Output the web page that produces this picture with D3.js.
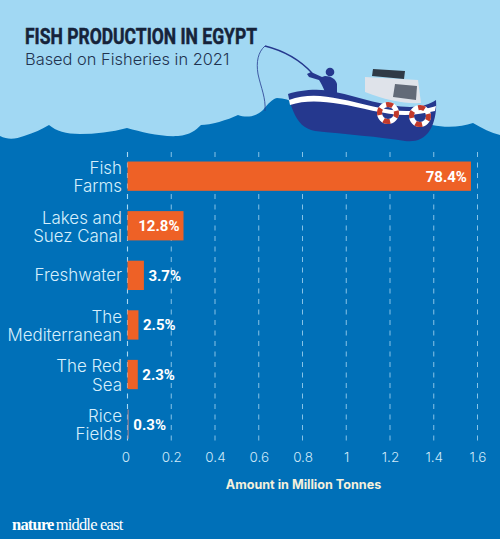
<!DOCTYPE html>
<html><head><meta charset="utf-8">
<script src="https://cdnjs.cloudflare.com/ajax/libs/d3/7.8.5/d3.min.js"></script>
<style>html,body{margin:0;padding:0;background:#0070b8}svg{display:block}</style>
</head><body><svg id="c" width="500" height="539" font-family="Inter,Roboto,sans-serif"></svg>
<script>
const categories=[["Fish","Farms"],["Lakes and","Suez Canal"],["Freshwater"],["The","Mediterranean"],["The Red","Sea"],["Rice","Fields"]];
const values=[1.57,0.256,0.075,0.05,0.047,0.006];
const shares=["78.4%","12.8%","3.7%","2.5%","2.3%","0.3%"];
const ticks=[0,0.2,0.4,0.6,0.8,1,1.2,1.4,1.6];
const svg=d3.select("#c");
svg.append("rect").attr("width",500).attr("height",539).attr("fill","#0070b8");
svg.append("rect").attr("width",500).attr("height",150).attr("fill","#a1d8f3");
svg.append("path").attr("fill","#0070b8").attr("d","M0,136 C8,140 16,139 24,136 C34,133 42,129 49,125 C56,131 66,134 80,134 C95,134 112,132 127,128 C142,132 160,137 178,136 C190,135 196,130 201,125 C210,125 228,120 238,115 C246,118 256,117 263,110 C268,104 272,99 277,98 C284,98 290,100 296,104 L432,125 C446,128 462,127 473,123 C482,128 491,133 500,135 L500,160 L0,160 Z");
// boat
svg.append("path").attr("fill","#25388e").attr("d","M288,94 C300,90 320,88 335,92 C360,97 385,107 410,107 C422,107 430,104 436,100 C437,112 434,124 430,130 C424,140 415,142 405,141 C380,137 345,134 315,131 C304,129 298,122 294,113 C291,106 289,100 288,94Z");
svg.append("path").attr("fill","#fff").attr("d","M289,100 C305,94 322,95 340,99 C362,103 388,112 410,111 C420,110 430,108 436,106 L435,111 C425,113 415,115 405,115 C385,115 360,107 340,104 C322,101 305,100 290,105Z");
svg.append("path").attr("fill","#dfe3ea").attr("d","M365,77 L418,80 L421,103 C405,104 385,100 365,92Z");
svg.append("path").attr("fill","#2f3a46").attr("d","M373,69 L405,71 L404,79 L372,76Z");
svg.append("path").attr("fill","#626a78").attr("d","M395,84 L417,86 L416,100 L393,97Z");
[[388,113],[420,116]].forEach(([cx,cy])=>{
  svg.append("circle").attr("cx",cx).attr("cy",cy).attr("r",8.5).attr("fill","none").attr("stroke","#fff").attr("stroke-width",5);
  svg.append("circle").attr("cx",cx).attr("cy",cy).attr("r",8.5).attr("fill","none").attr("stroke","#c23a2b").attr("stroke-width",5).attr("stroke-dasharray","6.7 6.7").attr("transform",`rotate(-15 ${cx} ${cy})`);
});
// fisherman
svg.append("circle").attr("cx",330).attr("cy",72).attr("r",4.3).attr("fill","#25388e");
svg.append("path").attr("fill","#25388e").attr("d","M325,76 C331,76 336,79 337,84 L337,94 L325,92 C323,87 321,83 319,80 L309,77 L307,74 L311,72 L322,77Z");
svg.append("path").attr("fill","none").attr("stroke","#25388e").attr("stroke-width",1.3).attr("d","M312,73 C300,60 285,51 265,46");
svg.append("path").attr("fill","none").attr("stroke","#25388e").attr("stroke-width",.8).attr("d","M265,46 C258,52 256,62 258,74 C261,88 266,98 265,111");
const chartTop=152,chartBottom=445;
const x=d3.scaleLinear().domain([0,1.6]).range([127.5,477.5]);
const y=d3.scaleBand().domain(categories.map(d=>d.join(" "))).range([151.6,448.7]).paddingInner(0.409).paddingOuter(0.2);
const axis=d3.axisBottom(x).tickValues(ticks).tickFormat(d3.format("")).tickSize(0);
const ag=svg.append("g").attr("transform",`translate(0,${chartBottom})`).call(axis);
ag.select(".domain").remove();
ag.selectAll("text").attr("y",6).attr("dy",".8em").attr("font-size",13.5).attr("font-weight",300).attr("fill","#cfe9f8").attr("font-family","Inter,Roboto,sans-serif").attr("dx",d=>d===0?-2:0);
svg.append("g").selectAll("line").data(ticks).join("line")
 .attr("x1",d=>x(d)).attr("x2",d=>x(d)).attr("y1",chartTop).attr("y2",chartBottom)
 .attr("stroke","#a9d8f2").attr("stroke-width",d=>d===0?1.1:.8).attr("stroke-dasharray","5 5.5");
svg.append("g").selectAll("rect").data(values).join("rect")
 .attr("x",x(0)).attr("y",(d,i)=>y(categories[i].join(" "))).attr("width",d=>x(d)-x(0)).attr("height",y.bandwidth())
 .attr("fill",(d,i)=>i===5?"#8a7f96":"#ee6126");
const lab=svg.append("g").attr("fill","#d6effc").attr("font-size",16.9).attr("font-weight",300).attr("text-anchor","end");
categories.forEach((c,i)=>{
  const cy=y(c.join(" "))+y.bandwidth()/2;
  const off=c.length>1?7:5.5;
  c.forEach((t,j)=>lab.append("text").attr("x",122).attr("y",cy+off+(j-(c.length-1)/2)*18.5).text(t));
});
svg.append("g").selectAll("text").data(values).join("text")
 .attr("x",(d,i)=>i<2?x(d)-4:x(d)+4.5)
 .attr("y",(d,i)=>y(categories[i].join(" "))+y.bandwidth()/2+5.5)
 .attr("text-anchor",(d,i)=>i<2?"end":"start")
 .attr("fill","#fff").attr("font-weight",700).attr("font-size",15).attr("font-family","Roboto,Inter,sans-serif")
 .text((d,i)=>shares[i]);
svg.append("text").attr("x",303.5).attr("y",489).attr("text-anchor","middle").attr("fill","#f4f0dc").attr("font-size",12.6).attr("font-weight",700).text("Amount in Million Tonnes");
svg.append("text").attr("x",25).attr("y",43.5).attr("fill","#16233a").attr("stroke","#16233a").attr("stroke-width",.5).attr("font-size",22.5).attr("font-weight",700).attr("font-family","'Liberation Sans Narrow',Roboto,sans-serif").attr("textLength",232).attr("lengthAdjust","spacingAndGlyphs").text("FISH PRODUCTION IN EGYPT");
svg.append("text").attr("x",25).attr("y",65).attr("fill","#1f3350").attr("font-size",16.4).attr("font-weight",300).text("Based on Fisheries in 2021");
const logo=svg.append("text").attr("x",12).attr("y",530).attr("fill","#fff").attr("font-size",15).attr("letter-spacing","-0.8");
logo.append("tspan").attr("font-weight",700).attr("font-family","'Liberation Serif',serif").attr("font-size",16.5).text("nature");
logo.append("tspan").attr("dx",2).attr("font-family","'Liberation Serif',serif").attr("font-size",16.5).text("middle east");
</script></body></html>
